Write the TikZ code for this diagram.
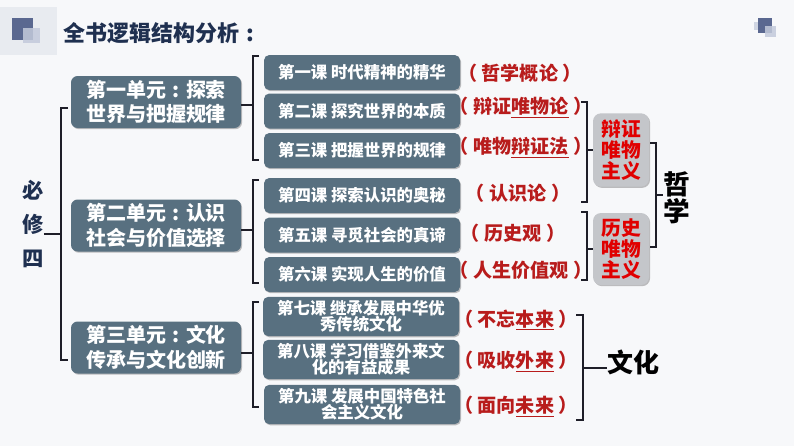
\documentclass[tikz,border=0pt]{standalone}
\usepackage{fontspec}
\setmainfont{Noto Sans CJK SC}
\usetikzlibrary{shadows}
\definecolor{bgc}{HTML}{F7F8FA}
\definecolor{boxc}{HTML}{587080}
\definecolor{linec}{HTML}{1E1E28}
\definecolor{titlec}{HTML}{1F3050}
\definecolor{redc}{HTML}{B81C1C}
\definecolor{brightred}{HTML}{E00000}
\definecolor{grayc}{HTML}{C4C6CA}
\definecolor{icondark}{HTML}{5A6890}
\definecolor{iconlight}{HTML}{C3CADB}
\definecolor{iconbg}{HTML}{E8EBF0}
\newcommand{\lpar}{（\hspace{3.5pt}}
\newcommand{\rpar}{\hspace{3.5pt}）}
\newcommand{\ccolon}{\makebox[1em][c]{:}}
\tikzset{
  shad/.style={drop shadow={shadow xshift=0.8pt, shadow yshift=-0.9pt, opacity=0.35, fill=black!70}},
  unitbox/.style={rounded corners=5pt, fill=boxc, text=white, shad, inner sep=0pt, align=center,
    minimum width=127.5pt, minimum height=39pt, font=\bfseries\fontsize{15}{18.5}\selectfont},
  lessonbox/.style={rounded corners=4pt, fill=boxc, text=white, shad, inner sep=0pt, align=center,
    minimum width=147pt, minimum height=26.25pt, font=\bfseries\fontsize{12.3}{12.3}\selectfont},
  tallbox/.style={lessonbox, minimum height=29.5pt},
  redlabel/.style={text=redc, inner sep=0pt, font=\bfseries\fontsize{14.3}{15}\selectfont},
  graybox/.style={rounded corners=6pt, fill=grayc, text=brightred, shad, inner sep=0pt, align=center,
    minimum width=42pt, minimum height=55pt, font=\bfseries\fontsize{14.8}{15.8}\selectfont},
  bigword/.style={text=black, inner sep=0pt, align=center, font=\bfseries\fontsize{20}{20.5}\selectfont},
  conn/.style={draw=linec, line width=1.1pt},
}
\begin{document}
\begin{tikzpicture}[x=0.75pt, y=-0.75pt]
\useasboundingbox (0,0) rectangle (794,446);
\fill[bgc] (0,0) rectangle (794,446);
% icons
\fill[iconbg] (0,7) rectangle (57,55);
\fill[icondark] (12,18) rectangle (33,40);
\fill[iconlight, opacity=0.85] (23,28) rectangle (40,43);
\fill[iconlight!80!white] (754,22) rectangle (762,30);
\fill[icondark] (758,18) rectangle (772,33);
\fill[iconlight, opacity=0.85] (765,26) rectangle (776,37);
% title
\node[anchor=west, text=titlec, inner sep=0pt, font=\bfseries\fontsize{16.5}{17}\selectfont] (title) at (63,33) {全书逻辑结构分析\ccolon};
% root
\node[text=titlec, inner sep=0pt, align=center, font=\bfseries\fontsize{16}{25.5}\selectfont] (root) at (33,224) {必\\修\\四};
% units
\node[unitbox] (u1) at (156,102) {第一单元\ccolon 探索\\世界与把握规律};
\node[unitbox] (u2) at (156,225.5) {第二单元\ccolon 认识\\社会与价值选择};
\node[unitbox] (u3) at (156,347.5) {第三单元\ccolon 文化\\传承与文化创新};
% lessons
\node[lessonbox] (l1) at (362,72.5) {第一课 时代精神的精华};
\node[lessonbox] (l2) at (362,111) {第二课 探究世界的本质};
\node[lessonbox] (l3) at (362,150.5) {第三课 把握世界的规律};
\node[lessonbox] (l4) at (362,195.5) {第四课 探索认识的奥秘};
\node[lessonbox] (l5) at (362,235) {第五课 寻觅社会的真谛};
\node[lessonbox] (l6) at (362,274.5) {第六课 实现人生的价值};
\node[tallbox] (l7) at (361,316.5) {第七课 继承发展中华优\\秀传统文化};
\node[tallbox] (l8) at (361,359.5) {第八课 学习借鉴外来文\\化的有益成果};
\node[tallbox] (l9) at (362,404.5) {第九课 发展中国特色社\\会主义文化};
% red labels
\node[redlabel] (r1) at (520,73) {\lpar 哲学概论\rpar};
\node[redlabel] (r2) at (521,108) {\lpar 辩证\underline{唯物论}\rpar};
\node[redlabel] (r3) at (521,148) {\lpar 唯物\underline{辩证法}\rpar};
\node[redlabel] (r4) at (518,193) {\lpar 认识论\rpar};
\node[redlabel] (r5) at (513,233) {\lpar 历史观\rpar};
\node[redlabel] (r6) at (521,270) {\lpar 人生价值观\rpar};
\node[redlabel] (r7) at (516,320) {\lpar 不忘\underline{本来}\rpar};
\node[redlabel] (r8) at (516,362) {\lpar 吸收\underline{外来}\rpar};
\node[redlabel] (r9) at (516,407) {\lpar 面向\underline{未来}\rpar};
% gray boxes
\node[graybox] (g1) at (621,150) {辩证\\唯物\\主义};
\node[graybox, minimum height=54pt] (g2) at (621,249) {历史\\唯物\\主义};
% big words
\node[bigword, font=\bfseries\fontsize{20}{20.5}\selectfont] (zx) at (677,198) {哲\\学};
\node[bigword, anchor=west, font=\bfseries\fontsize{19.5}{20}\selectfont] (wh) at (607,362) {文化};
% bracket coordinates
\coordinate (mb) at (61,234);
\coordinate (b1) at (253,105);
\coordinate (b2) at (253,230);
\coordinate (b3) at (253,353);
\coordinate (bd) at (587,150);
\coordinate (bh) at (587,249);
\coordinate (bz) at (656,195);
\coordinate (bw) at (583,368);
% main bracket
\draw[conn] (root.east |- mb) -- (mb);
\draw[conn] (68,108) -- (61,108) -- (61,360) -- (68,360);
% unit brackets
\draw[conn] (u1.east |- b1) -- (b1);
\draw[conn] (259,56) -- (253,56) -- (253,160) -- (259,160);
\draw[conn] (u2.east |- b2) -- (b2);
\draw[conn] (259,180) -- (253,180) -- (253,283) -- (259,283);
\draw[conn] (u3.east |- b3) -- (b3);
\draw[conn] (259,302) -- (253,302) -- (253,407) -- (259,407);
% dialectical materialism bracket
\draw[conn] (581,102) -- (587,102) -- (587,202) -- (581,202);
\draw[conn] (bd) -- (g1.west);
% historical materialism bracket
\draw[conn] (581,212) -- (587,212) -- (587,280) -- (581,280);
\draw[conn] (bh) -- (g2.west);
% philosophy bracket
\draw[conn] (650,143) -- (656,143) -- (656,247) -- (650,247);
\draw[conn] (bz) -- (zx.west |- bz);
% culture bracket
\draw[conn] (576,315) -- (583,315) -- (583,420) -- (576,420);
\draw[conn] (bw) -- (wh.west |- bw);
\end{tikzpicture}
\end{document}
